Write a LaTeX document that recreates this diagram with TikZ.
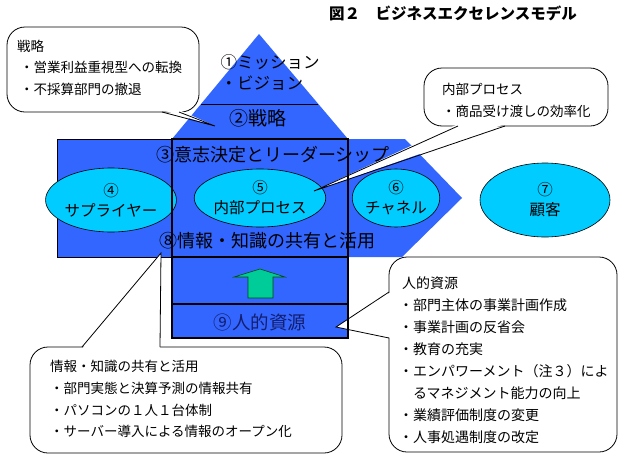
\documentclass[tikz,border=0pt]{standalone}
\usepackage{fontspec}
\setmainfont{Noto Sans CJK JP}
\usetikzlibrary{shapes.geometric}
\definecolor{myblue}{RGB}{51,102,255}
\definecolor{mycyan}{RGB}{0,204,255}
\definecolor{mygreen}{RGB}{0,204,153}
\definecolor{mynavy}{RGB}{20,30,110}
\begin{document}
\begin{tikzpicture}[x=1pt,y=-1pt,
  ell/.style={ellipse, draw=black, line width=0.6pt, fill=mycyan, inner sep=0pt, align=center, font=\fontsize{15.5}{20}\selectfont},
  callbox/.style={draw=black, line width=0.8pt, fill=white, rounded corners=18pt, inner sep=0pt},
  cline/.style={draw=black, line width=0.8pt},
  ctext/.style={anchor=north west, inner sep=0pt, align=left, font=\fontsize{13.5}{21.8}\selectfont},
  big/.style={font=\fontsize{18}{22}\selectfont, inner sep=0pt},
  colline/.style={draw=black, line width=1.6pt},
]
\useasboundingbox (0,0) rectangle (623,458);
% band
\fill[myblue] (348,139) -- (405,139) -- (462,198) -- (402,257) -- (348,257) -- cycle;
\filldraw[fill=myblue, draw=black, line width=0.8pt] (57,139) rectangle (172,257);
% triangle
\fill[myblue] (172,139) -- (259,34) -- (348,139) -- cycle;
\draw[black, line width=0.8pt] (201,104) -- (318,104);
% column
\fill[myblue] (172,139) rectangle (348,338);
% ellipses
\node[ell, minimum width=108pt, minimum height=64pt] (e4) at (111,200) {④\\サプライヤー};
\node[ell, minimum width=120pt, minimum height=58pt] (e5) at (260,198) {⑤\\内部プロセス};
\node[ell, minimum width=86pt, minimum height=58pt] (e6) at (396,198) {⑥\\チャネル};
\node[ell, minimum width=130pt, minimum height=74pt] (e7) at (545,200) {⑦\\顧客};
% green arrow
\filldraw[fill=mygreen, draw=black!70!green, line width=0.6pt]
  (260,269) -- (285,277) -- (273,277) -- (273,298) -- (248,298) -- (248,277) -- (234,277) -- cycle;
% callout 1 (top left)
\node[callbox, minimum width=192pt, minimum height=85pt] (c1) at (103,69.5) {};
\coordinate (t1) at (215,126);
\fill[white] (162,110) -- (t1) -- (179,110) -- cycle;
\draw[cline] (162,112) -- (t1) -- (179,112);
% callout 2 (top right)
\node[callbox, minimum width=184pt, minimum height=58pt] (c2) at (516,97) {};
\coordinate (t2) at (314,191);
\fill[white] (458,124) -- (t2) -- (505,124) -- cycle;
\draw[cline] (458,126) -- (t2) -- (505,126);
% callout 3 (bottom left)
\node[callbox, minimum width=312pt, minimum height=106pt] (c3) at (186,400) {};
\coordinate (t3) at (161,253);
\fill[white] (82,349) -- (t3) -- (160,349) -- cycle;
\draw[cline] (82,347) -- (t3) -- (160,347);
% callout 4 (bottom right)
\node[callbox, minimum width=228pt, minimum height=195pt] (c4) at (503,354.5) {};
\coordinate (t4) at (336,327);
\fill[white] (391,292) -- (t4) -- (391,338) -- cycle;
\draw[cline] (389,292) -- (t4) -- (389,338);
% column outlines
\draw[colline] (172,139) rectangle (348,338);
\draw[colline] (172,257) -- (348,257);
\draw[colline] (172,304) -- (348,304);
% big labels
\node[align=left, font=\fontsize{16.5}{21}\selectfont, inner sep=0pt] (l1) at (270,72) {①ミッション\\・ビジョン};
\node[big, font=\fontsize{19}{22}\selectfont] (l2) at (258,118) {②戦略};
\node[big] (l3) at (273,155) {③意志決定とリーダーシップ};
\node[big] (l8) at (267,241) {⑧情報・知識の共有と活用};
\node[big, text=mynavy, font=\fontsize{18.5}{22}\selectfont] (l9) at (260,322) {⑨人的資源};
% callout texts
\node[ctext] (x1) at (17,40) {戦略\\[-0.5pt]\hspace{3pt}・営業利益重視型への転換\\\hspace{3pt}・不採算部門の撤退};
\node[ctext] (x2) at (442,83) {内部プロセス\\・商品受け渡しの効率化};
\node[ctext] (x3) at (50,360) {情報・知識の共有と活用\\・部門実態と決算予測の情報共有\\・パソコンの１人１台体制\\・サーバー導入による情報のオープン化};
\node[ctext, font=\fontsize{14}{22}\selectfont] (x4) at (399,276) {\hspace{3pt}人的資源\\・部門主体の事業計画作成\\・事業計画の反省会\\・教育の充実\\・エンパワーメント（注３）によ\\\hspace{14pt}るマネジメント能力の向上\\・業績評価制度の変更\\・人事処遇制度の改定};
% title
\node[font=\fontsize{15.5}{18}\selectfont\bfseries, inner sep=0pt] (title) at (453,13) {図２　ビジネスエクセレンスモデル};
\end{tikzpicture}
\end{document}
